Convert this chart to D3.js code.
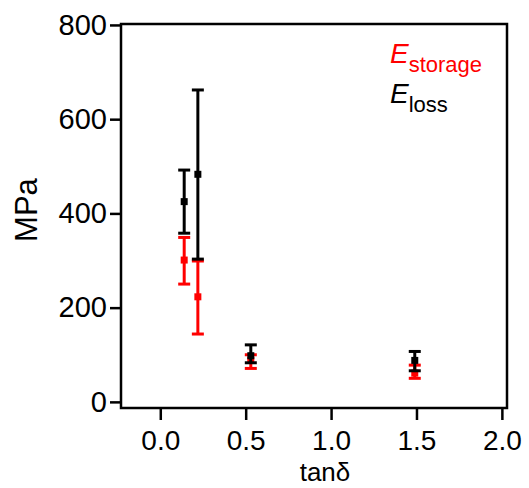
<!DOCTYPE html>
<html>
<head>
<meta charset="utf-8">
<script src="https://cdn.jsdelivr.net/npm/d3@7"></script>
<style>
  body { margin: 0; background: #fff; }
  text { font-family: "Liberation Sans", Arial, sans-serif; }
</style>
</head>
<body>
<div id="plot1"></div>
<script>
// tan delta positions and moduli (MPa)
const tanDelta = [0.14, 0.22, 0.53, 1.49];
const storage = [301, 223, 88, 61];
const storageLow = [250, 144, 71, 50];
const storageHigh = [349, 299, 100, 78];
const loss = [425, 483, 98, 88];
const lossLow = [358, 303, 83, 66];
const lossHigh = [492, 662, 121, 107];
const xTicks = [0, 0.5, 1.0, 1.5, 2.0];
const yTicks = [0, 200, 400, 600, 800];

const width = 529;
const height = 488;
const box = {left: 121, right: 507, top: 24, bottom: 408};

const svg = d3.select('#plot1')
    .append('svg')
    .attr('width', width)
    .attr('height', height);

const x = d3.scaleLinear()
    .domain([-0.23, 2.03])
    .range([box.left, box.right]);

const y = d3.scaleLinear()
    .domain([-13, 802])
    .range([box.bottom, box.top]);

function series(vals, lo, hi, color) {
    const g = svg.append('g').attr('stroke', color).attr('fill', color);
    const pts = tanDelta.map((t, i) => ({t, v: vals[i], lo: lo[i], hi: hi[i]}));
    g.selectAll('line.bar').data(pts).join('line')
        .attr('x1', d => x(d.t)).attr('x2', d => x(d.t))
        .attr('y1', d => y(d.lo)).attr('y2', d => y(d.hi))
        .attr('stroke-width', 3);
    g.selectAll('line.top').data(pts).join('line')
        .attr('x1', d => x(d.t) - 6).attr('x2', d => x(d.t) + 6)
        .attr('y1', d => y(d.hi)).attr('y2', d => y(d.hi))
        .attr('stroke-width', 3);
    g.selectAll('line.bot').data(pts).join('line')
        .attr('x1', d => x(d.t) - 6).attr('x2', d => x(d.t) + 6)
        .attr('y1', d => y(d.lo)).attr('y2', d => y(d.lo))
        .attr('stroke-width', 3);
    g.selectAll('rect').data(pts).join('rect')
        .attr('x', d => x(d.t) - 3.5).attr('y', d => y(d.v) - 3.5)
        .attr('width', 7).attr('height', 7)
        .attr('stroke', 'none');
}

series(storage, storageLow, storageHigh, '#ff0000');
series(loss, lossLow, lossHigh, '#000');

// frame
svg.append('rect')
    .attr('x', box.left).attr('y', box.top)
    .attr('width', box.right - box.left).attr('height', box.bottom - box.top)
    .attr('fill', 'none').attr('stroke', '#000').attr('stroke-width', 2.5);

function yAxis(g) {
    g.attr('transform', `translate(${box.left},0)`)
        .call(d3.axisLeft(y).tickValues(yTicks).tickSize(11).tickPadding(3).tickSizeOuter(0))
        .call(g => g.select('.domain').remove())
        .attr('font-size', '29px')
        .attr('font-family', '"Liberation Sans", Arial, sans-serif');
    g.selectAll('.tick line').attr('stroke-width', 2.5);
}

function xAxis(g) {
    g.attr('transform', `translate(0,${box.bottom})`)
        .call(d3.axisBottom(x).tickValues(xTicks).tickFormat(d3.format('.1f')).tickSize(12).tickPadding(10).tickSizeOuter(0))
        .call(g => g.select('.domain').remove())
        .attr('font-size', '28px')
        .attr('font-family', '"Liberation Sans", Arial, sans-serif');
    g.selectAll('.tick line').attr('stroke-width', 2.5);
}

svg.append('g').call(yAxis);
svg.append('g').call(xAxis);

svg.append('text')
    .attr('transform', 'translate(37,210) rotate(-90)')
    .attr('text-anchor', 'middle')
    .attr('font-size', '31px')
    .text('MPa');

svg.append('text')
    .attr('x', 325).attr('y', 481)
    .attr('text-anchor', 'middle')
    .attr('font-size', '26px')
    .text('tanδ');

// legend
const leg = [{name: 'storage', color: '#ff0000', y: 63}, {name: 'loss', color: '#000', y: 103}];
leg.forEach(l => {
    const t = svg.append('text')
        .attr('x', 390).attr('y', l.y)
        .attr('fill', l.color);
    t.append('tspan').attr('font-style', 'italic').attr('font-size', '28px').text('E');
    t.append('tspan').attr('font-size', '22px').attr('dy', 9).text(l.name);
});
</script>
</body>
</html>
